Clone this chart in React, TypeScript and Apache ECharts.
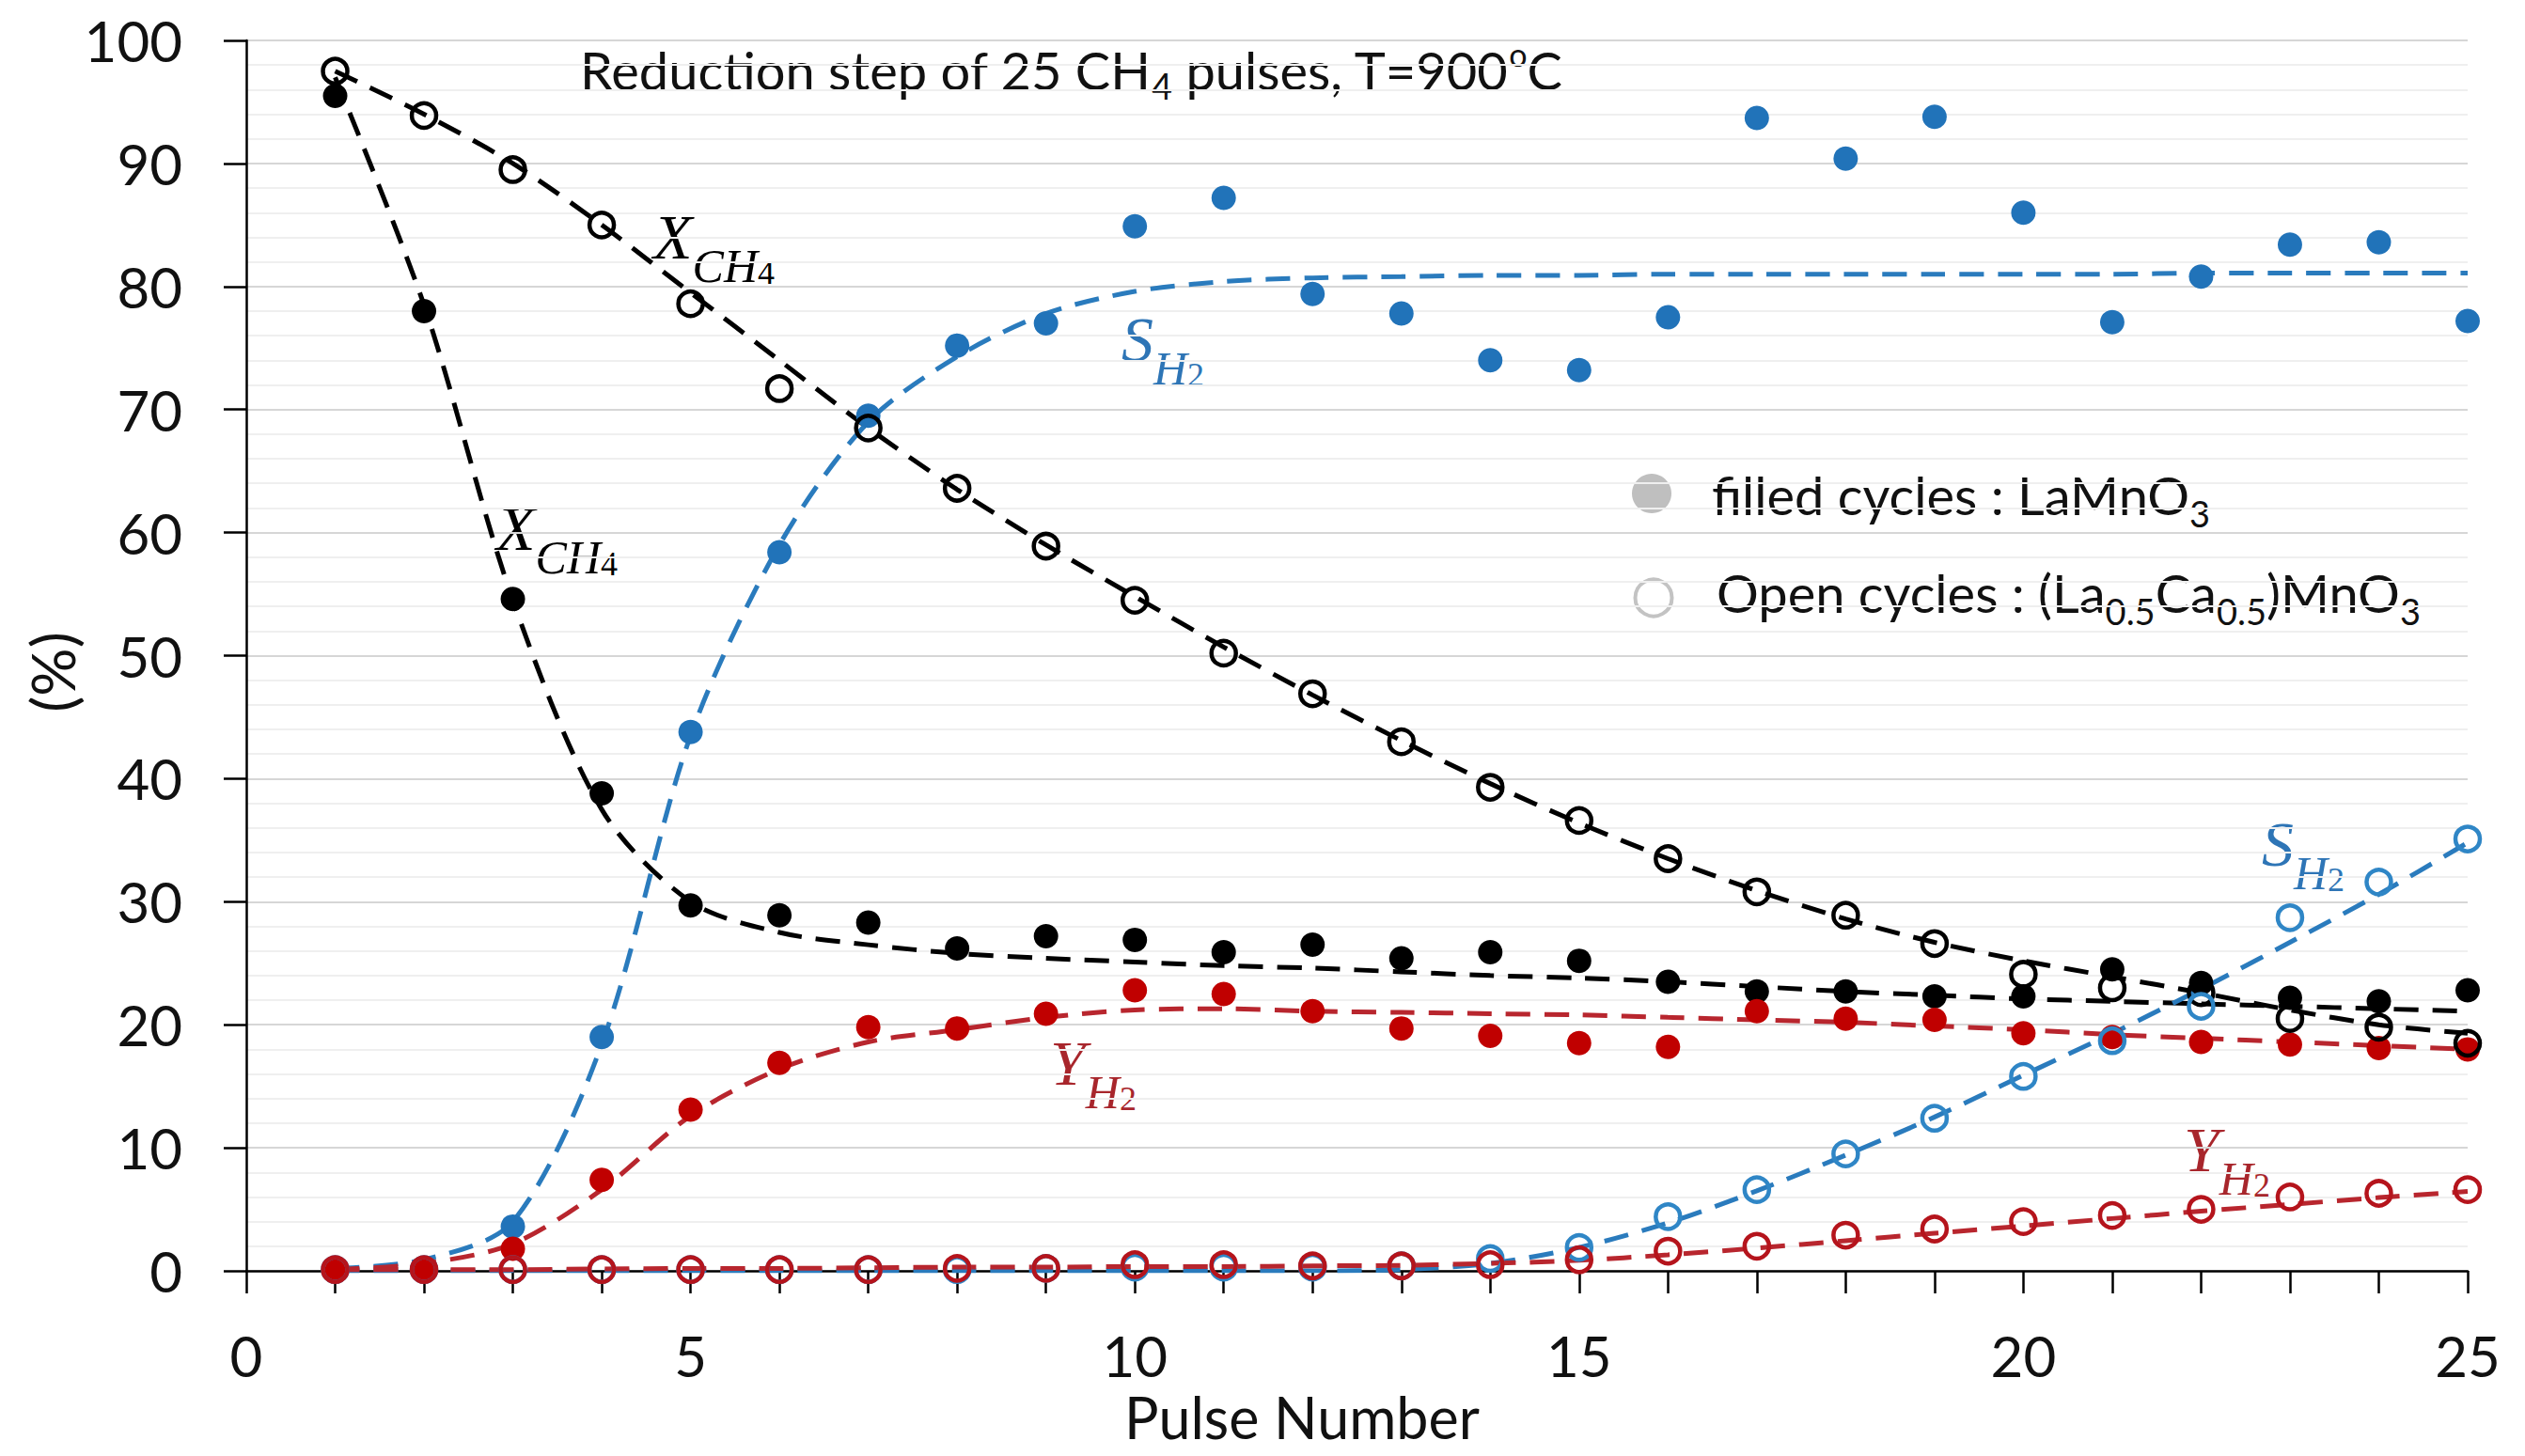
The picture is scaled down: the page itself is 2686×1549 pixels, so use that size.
import React, { useEffect, useRef } from "react";
import * as echarts from "echarts";

// ---------------- data ----------------
const pulses = [1, 2, 3, 4, 5, 6, 7, 8, 9, 10, 11, 12, 13, 14, 15, 16, 17, 18, 19, 20, 21, 22, 23, 24, 25];
const xTickLabels = [0, 5, 10, 15, 20, 25];

// LaMnO3 (filled markers)
const xch4Filled = [95.5, 78.0, 54.6, 38.8, 29.7, 28.9, 28.3, 26.2, 27.2, 26.9, 25.9, 26.5, 25.4, 25.9, 25.2, 23.5, 22.7, 22.7, 22.3, 22.3, 24.5, 23.4, 22.2, 21.9, 22.8];
const sh2Filled = [0.2, 0.2, 3.6, 19.0, 43.8, 58.4, 69.5, 75.2, 77.0, 84.9, 87.2, 79.4, 77.8, 74.0, 73.2, 77.5, 93.7, 90.4, 93.8, 86.0, 77.1, 80.8, 83.4, 83.6, 77.2];
const yh2Filled = [0.15, 0.15, 1.8, 7.4, 13.1, 16.9, 19.8, 19.7, 20.9, 22.8, 22.5, 21.1, 19.7, 19.1, 18.5, 18.2, 21.1, 20.5, 20.4, 19.3, 19.0, 18.6, 18.4, 18.1, 18.0];

// (La0.5Ca0.5)MnO3 (open markers)
const xch4Open = [97.5, 93.9, 89.5, 85.0, 78.6, 71.7, 68.5, 63.6, 58.9, 54.5, 50.2, 46.9, 43.0, 39.3, 36.6, 33.5, 30.8, 28.9, 26.6, 24.1, 23.0, 22.6, 20.5, 19.8, 18.5];
const sh2Open = [0.1, 0.1, 0.1, 0.1, 0.1, 0.1, 0.1, 0.1, 0.2, 0.3, 0.3, 0.3, 0.4, 1.0, 1.9, 4.4, 6.6, 9.5, 12.4, 15.8, 18.7, 21.5, 28.7, 31.6, 35.1];
const yh2Open = [0.1, 0.1, 0.1, 0.1, 0.1, 0.1, 0.1, 0.2, 0.2, 0.5, 0.5, 0.4, 0.4, 0.5, 0.9, 1.6, 2.0, 2.9, 3.4, 4.0, 4.5, 5.0, 6.0, 6.3, 6.6];

// dashed trend curves (read at each pulse)
const xch4FilledFit = [97.0, 78.5, 54.5, 37.5, 30.0, 27.5, 26.5, 25.8, 25.4, 25.1, 24.8, 24.6, 24.3, 24.0, 23.8, 23.5, 23.1, 22.7, 22.4, 22.1, 21.9, 21.7, 21.5, 21.3, 21.1];
const sh2FilledFit = [0.2, 0.9, 4.0, 18.4, 43.5, 59.0, 69.0, 74.3, 77.8, 79.6, 80.4, 80.7, 80.8, 80.9, 80.9, 81.0, 81.0, 81.0, 81.0, 81.0, 81.0, 81.1, 81.1, 81.1, 81.1];
const yh2FilledFit = [0.1, 0.6, 2.2, 6.6, 12.6, 16.4, 18.6, 19.6, 20.6, 21.2, 21.3, 21.1, 21.0, 20.9, 20.8, 20.6, 20.4, 20.2, 19.9, 19.6, 19.2, 18.9, 18.6, 18.3, 18.0];
const xch4OpenFit = [97.5, 94.0, 90.0, 85.0, 79.5, 74.0, 68.5, 63.5, 59.0, 54.8, 50.7, 46.8, 43.1, 39.6, 36.4, 33.5, 30.9, 28.6, 26.7, 25.2, 23.9, 22.6, 21.2, 20.0, 19.3];
const sh2OpenFit = [0, 0, 0, 0, 0, 0, 0, 0, 0, 0, 0, 0, 0.1, 0.6, 1.9, 3.9, 6.5, 9.4, 12.5, 15.9, 19.3, 22.9, 26.7, 30.6, 34.8];
const yh2OpenFit = [0.1, 0.1, 0.1, 0.15, 0.2, 0.2, 0.25, 0.3, 0.3, 0.35, 0.35, 0.4, 0.45, 0.6, 0.85, 1.3, 1.85, 2.45, 3.05, 3.65, 4.25, 4.85, 5.4, 5.95, 6.45];

// ---------------- styles ----------------
const BLACK = "#000000";
const BLUE = "#2173b9";
const BLUE_OPEN = "#2f86c6";
const BLUE_LINE = "#2a7bbd";
const RED = "#c00000";
const RED_OPEN = "#b5141c";
const RED_LINE = "#b8262e";
const TEXT = "#111111";
const SANS = "Lato";
const SERIF = "Liberation Serif";

const pts = (arr: number[]) => pulses.map((p, i) => [p, arr[i]]);

const fitLine = (arr: number[], color: string) => ({
  type: "line",
  data: pts(arr),
  smooth: 0.3,
  symbol: "none",
  silent: true,
  z: 2,
  lineStyle: { color, width: 5, type: [26, 15] },
});

const filled = (arr: number[], color: string, z: number) => ({
  type: "scatter",
  data: pts(arr),
  symbol: "circle",
  symbolSize: 26,
  z,
  itemStyle: { color, opacity: 1 },
});

const open = (arr: number[], color: string, z: number) => ({
  type: "scatter",
  data: pts(arr),
  symbol: "circle",
  symbolSize: 26,
  z,
  itemStyle: { color: "rgba(255,255,255,0)", borderColor: color, borderWidth: 4.5, opacity: 1 },
});

const mathRich = (color: string) => ({
  m: { fontFamily: SERIF, fontStyle: "italic", fontSize: 68, fill: color },
  s: { fontFamily: SERIF, fontStyle: "italic", fontSize: 50, fill: color, padding: [62, 0, 0, 0] },
  ss: { fontFamily: SERIF, fontStyle: "normal", fontSize: 36, fill: color, padding: [76, 0, 0, 0] },
});

const mathLabel = (x: number, y: number, main: string, sub: string, subsub: string, color: string) => ({
  type: "text",
  x,
  y,
  silent: true,
  style: {
    text: `{m|${main}}{s|${sub}}{ss|${subsub}}`,
    rich: mathRich(color),
    verticalAlign: "top",
    align: "left",
  },
});

const sansRich = (size: number, subSize: number, subPad: number) => ({
  a: { fontFamily: SANS, fontSize: size, fill: TEXT },
  s: { fontFamily: SANS, fontSize: subSize, fill: TEXT, padding: [subPad, 0, 0, 0] },
  o: { fontFamily: SANS, fontSize: 34, fill: TEXT, padding: [0, 0, 33, 0] },
});

export default function App() {
  const ref = useRef<HTMLDivElement>(null);

  useEffect(() => {
    if (!ref.current) return;
    const chart = echarts.init(ref.current, null, { renderer: "svg" });

    const option: any = {
      animation: false,
      backgroundColor: "#ffffff",
      grid: { left: 262, right: 61, top: 43, bottom: 197, outerBoundsMode: "none" },
      xAxis: {
        type: "value",
        min: 0,
        max: 25,
        interval: 1,
        axisLine: { show: true, onZero: false, lineStyle: { color: "#000", width: 2.5 } },
        axisTick: { show: true, length: 24, lineStyle: { color: "#000", width: 2.5 } },
        axisLabel: {
          margin: 60,
          fontFamily: SANS,
          fontSize: 60,
          lineHeight: 60,
          color: TEXT,
          formatter: (v: number) => (xTickLabels.indexOf(v) >= 0 ? String(v) : ""),
        },
        splitLine: { show: false },
      },
      yAxis: {
        type: "value",
        min: 0,
        max: 100,
        interval: 10,
        axisLine: { show: true, lineStyle: { color: "#000", width: 2.5 } },
        axisTick: { show: true, length: 24, lineStyle: { color: "#000", width: 2.5 } },
        axisLabel: { margin: 68, fontFamily: SANS, fontSize: 60, color: TEXT },
        splitLine: { show: true, lineStyle: { color: "#d6d6d6", width: 2 } },
        minorTick: { show: false, splitNumber: 5 },
        minorSplitLine: { show: true, lineStyle: { color: "#efefef", width: 2 } },
      },
      series: [
        fitLine(xch4FilledFit, BLACK),
        fitLine(xch4OpenFit, BLACK),
        fitLine(sh2FilledFit, BLUE_LINE),
        fitLine(sh2OpenFit, BLUE_LINE),
        fitLine(yh2FilledFit, RED_LINE),
        fitLine(yh2OpenFit, RED_LINE),
        filled(xch4Filled, BLACK, 3),
        filled(sh2Filled, BLUE, 3),
        filled(yh2Filled, RED, 4),
        open(xch4Open, BLACK, 5),
        open(sh2Open, BLUE_OPEN, 5),
        open(yh2Open, RED_OPEN, 6),
      ],
      graphic: [
        // subtitle
        {
          type: "text",
          x: 617,
          y: 38,
          silent: true,
          style: {
            text: "{a|Reduction step of 25 CH}{s|4}{a| pulses, T=900}{o|o}{a|C}",
            rich: sansRich(56, 38, 34),
            verticalAlign: "top",
            align: "left",
          },
        },
        // legend
        { type: "circle", shape: { cx: 1757, cy: 525, r: 21 }, style: { fill: "#bfbfbf" }, silent: true },
        { type: "circle", shape: { cx: 1759, cy: 636, r: 19.5 }, style: { fill: "none", stroke: "#c3c3c3", lineWidth: 4 }, silent: true },
        {
          type: "text",
          x: 1821,
          y: 487,
          silent: true,
          style: {
            text: "{a|filled cycles : LaMnO}{s|3}",
            rich: sansRich(56, 38, 40),
            verticalAlign: "top",
            align: "left",
          },
        },
        {
          type: "text",
          x: 1826,
          y: 591,
          silent: true,
          style: {
            text: "{a|Open cycles : (La}{s|0.5}{a|Ca}{s|0.5}{a|)MnO}{s|3}",
            rich: sansRich(56, 38, 40),
            verticalAlign: "top",
            align: "left",
          },
        },
        // curve annotations
        mathLabel(695, 196, "X", "CH", "4", BLACK),
        mathLabel(528, 506, "X", "CH", "4", BLACK),
        mathLabel(1193, 305, "S", "H", "2", "#2e75b6"),
        mathLabel(1117, 1075, "Y", "H", "2", "#a8262c"),
        mathLabel(2406, 842, "S", "H", "2", "#2e75b6"),
        mathLabel(2323, 1167, "Y", "H", "2", "#a8262c"),
        // axis titles
        {
          type: "text",
          x: 1385,
          y: 1477,
          silent: true,
          style: { text: "Pulse Number", fontFamily: SANS, fontSize: 61, lineHeight: 61, fill: TEXT, align: "center", verticalAlign: "top" },
        },
        {
          type: "text",
          x: 55,
          y: 715,
          rotation: Math.PI / 2,
          silent: true,
          style: { text: "(%)", fontFamily: SANS, fontSize: 64, fill: TEXT, align: "center", verticalAlign: "middle" },
        },
      ],
    };

    chart.setOption(option);
    return () => chart.dispose();
  }, []);

  return (
    <div
      ref={ref}
      style={{ position: "absolute", left: 0, top: 0, width: 2686, height: 1549, background: "#fff" }}
    />
  );
}
